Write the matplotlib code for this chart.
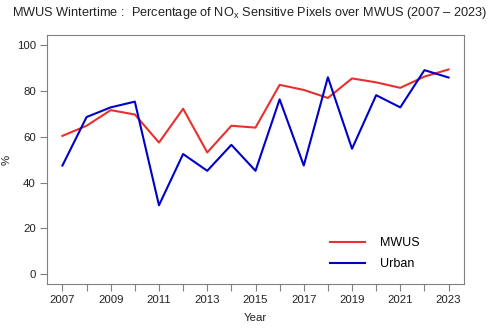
import numpy as np
import matplotlib
matplotlib.use("Agg")
import matplotlib.pyplot as plt

plt.rcParams['font.family'] = ['Liberation Sans', 'DejaVu Sans']
plt.rcParams['mathtext.fontset'] = 'custom'
plt.rcParams['mathtext.rm'] = 'Liberation Sans'
plt.rcParams['mathtext.it'] = 'Liberation Sans'

years = list(range(2007, 2024))
mwus = [60.3, 64.7, 71.5, 69.6, 57.4, 72.1, 53.1, 64.7, 63.9, 82.5,
        80.3, 76.8, 85.3, 83.6, 81.2, 86.1, 89.2]
urban = [47.4, 68.5, 72.7, 75.2, 30.1, 52.4, 45.1, 56.4, 45.1, 76.2,
         47.4, 85.8, 54.7, 78.0, 72.7, 88.9, 85.7]
xticks = list(range(2007, 2024))
xlabels = [str(y) if (y - 2007) % 2 == 0 else '' for y in xticks]
yticks = [0, 20, 40, 60, 80, 100]

fig = plt.figure(figsize=(5, 3.31), dpi=100)
ax = fig.add_axes([0.094, 0.142, 0.834, 0.752])

ax.plot(years, mwus, color='#e8302e', lw=1.5, label='MWUS')
ax.plot(years, urban, color='#0000c8', lw=1.5, label='Urban')

ax.set_xlim(2006.36, 2023.64)
ax.set_ylim(-4.16, 104.16)
ax.set_xticks(xticks)
ax.set_xticklabels(xlabels)
ax.set_yticks(yticks)

for s in ax.spines.values():
    s.set_color('#808080')
    s.set_linewidth(0.8)
ax.tick_params(direction='out', length=5, width=0.8, color='#808080',
               labelsize=8.2, pad=3, labelcolor='#222222')

ax.set_xlabel('Year', fontsize=8.2, labelpad=6, color='#222222')
ax.set_ylabel('%', fontsize=8.2, color='#222222')
ax.yaxis.set_label_coords(-0.085, 0.5)

fig.text(0.5, 0.96, r'MWUS Wintertime :  Percentage of NO$_\mathregular{x}$ Sensitive Pixels over MWUS (2007 – 2023)',
         ha='center', va='center', fontsize=9.2, color='#222222')

leg = ax.legend(loc='lower right', frameon=False, fontsize=9,
                handlelength=2.8, handletextpad=1.2, labelspacing=0.75,
                bbox_to_anchor=(0.92, 0.01))

fig.savefig('out.png', dpi=100)
